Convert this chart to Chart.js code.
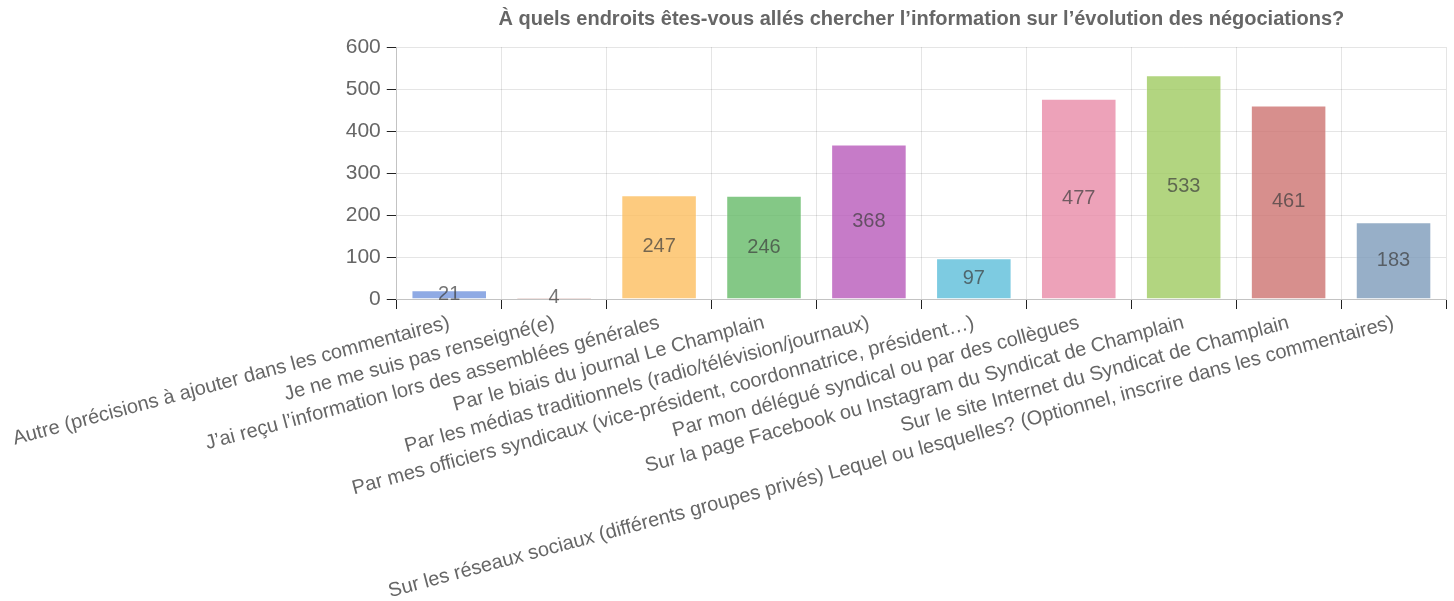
<!DOCTYPE html>
<html>
<head>
<meta charset="utf-8">
<script src="https://cdn.jsdelivr.net/npm/chart.js@4/dist/chart.umd.min.js"></script>
<style>
  html, body { margin: 0; padding: 0; background: #fff; }
  #wrap { width: 1454px; height: 601px; }
</style>
</head>
<body>
<div id="wrap"><canvas id="c"></canvas></div>
<script>
const chartTitle = "À quels endroits êtes-vous allés chercher l’information sur l’évolution des négociations?";
const categories = [
  "Autre (précisions à ajouter dans les commentaires)",
  "Je ne me suis pas renseigné(e)",
  "J’ai reçu l’information lors des assemblées générales",
  "Par le biais du journal Le Champlain",
  "Par les médias traditionnels (radio/télévision/journaux)",
  "Par mes officiers syndicaux (vice-président, coordonnatrice, président…)",
  "Par mon délégué syndical ou par des collègues",
  "Sur la page Facebook ou Instagram du Syndicat de Champlain",
  "Sur le site Internet du Syndicat de Champlain",
  "Sur les réseaux sociaux (différents groupes privés) Lequel ou lesquelles? (Optionnel, inscrire dans les commentaires)"
];
const counts = [21, 4, 247, 246, 368, 97, 477, 533, 461, 183];
const barColors = [
  "rgba(115,149,221,0.8)",
  "rgba(180,105,95,0.8)",
  "rgba(253,190,95,0.8)",
  "rgba(101,186,104,0.8)",
  "rgba(184,90,186,0.8)",
  "rgba(93,190,218,0.8)",
  "rgba(233,139,168,0.8)",
  "rgba(159,203,96,0.8)",
  "rgba(205,115,113,0.8)",
  "rgba(125,155,186,0.8)"
];
const yTicks = [0, 100, 200, 300, 400, 500, 600];

const FONT = "'Liberation Sans', Arial, sans-serif";

const valueLabels = {
  id: 'valueLabels',
  afterDatasetsDraw(chart) {
    const ctx = chart.ctx;
    chart.data.datasets.forEach((ds, di) => {
      const meta = chart.getDatasetMeta(di);
      meta.data.forEach((bar, i) => {
        const p = bar.getProps(['x', 'y', 'base'], true);
        ctx.save();
        ctx.font = "20px " + FONT;
        ctx.fillStyle = "rgba(60,60,60,0.7)";
        ctx.textAlign = "center";
        ctx.textBaseline = "middle";
        ctx.fillText(String(ds.data[i]), p.x, (p.y + p.base) / 2);
        ctx.restore();
      });
    });
  }
};

new Chart(document.getElementById('c'), {
  type: 'bar',
  data: {
    labels: categories,
    datasets: [{
      data: counts,
      backgroundColor: barColors,
      borderColor: "rgba(255,255,255,0.35)",
      borderWidth: 1
    }]
  },
  options: {
    responsive: true,
    maintainAspectRatio: false,
    animation: false,
    layout: { padding: { left: 2, right: 8, top: 0, bottom: 3 } },
    plugins: {
      legend: { display: false },
      tooltip: { enabled: false },
      title: {
        display: true,
        fullSize: false,
        text: chartTitle,
        color: "#666",
        font: { family: FONT, size: 20, weight: 'bold' },
        padding: { top: 7, bottom: 16 },
        align: 'center'
      }
    },
    scales: {
      x: {
        offset: true,
        afterFit(scale) { scale.paddingLeft = Math.max(scale.paddingLeft - 9, 0); },
        grid: { color: "rgba(0,0,0,0.1)", tickColor: "#222", tickLength: 10, offset: true },
        border: { color: "rgba(0,0,0,0.15)" },
        ticks: {
          color: "#666",
          font: { family: FONT, size: 20 },
          minRotation: 15,
          maxRotation: 15,
          autoSkip: false,
          padding: 2
        }
      },
      y: {
        min: 0,
        max: 600,
        afterBuildTicks(scale) { scale.ticks = yTicks.map(v => ({ value: v })); },
        grid: { color: "rgba(0,0,0,0.1)", tickColor: "#222", tickLength: 10 },
        border: { color: "rgba(0,0,0,0.15)" },
        ticks: {
          color: "#666",
          font: { family: FONT, size: 21 },
          padding: 6
        }
      }
    }
  },
  plugins: [valueLabels]
});
</script>
</body>
</html>
